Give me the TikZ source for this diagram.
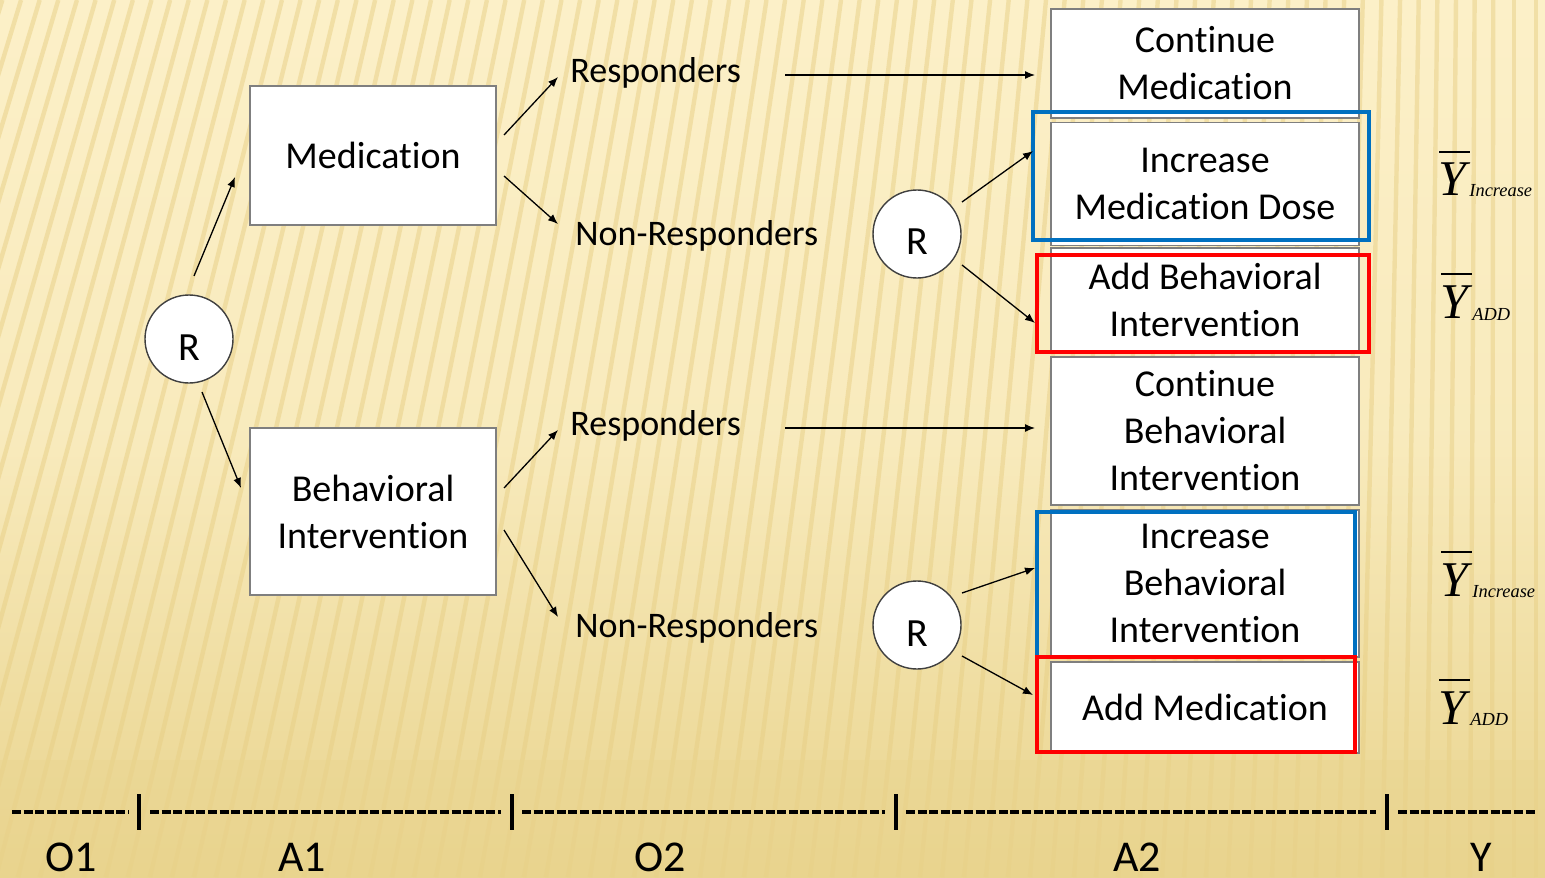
\documentclass[tikz,border=0pt]{standalone}
\usepackage{fontspec}
\setmainfont{Carlito}[Ligatures=NoCommon]
\newfontfamily\timesf{Liberation Serif}
\usetikzlibrary{arrows.meta}

\definecolor{paperlight}{HTML}{FCF0C8}
\definecolor{paperdark}{HTML}{E9D48E}
\definecolor{stripe}{HTML}{E8CF85}
\definecolor{boxline}{HTML}{7F7F7F}
\definecolor{hlblue}{HTML}{0070C0}
\definecolor{hlred}{HTML}{FF0000}

\tikzset{
  stagebox/.style={draw=boxline, line width=0.8pt, fill=white, align=center,
    inner sep=0pt, font=\fontsize{19}{23.5}\selectfont},
  rnode/.style={circle, draw=black!75, line width=0.7pt, fill=white,
    minimum size=44pt, inner sep=0pt, text height=21pt, text depth=0pt,
    font=\fontsize{20}{23}\selectfont},
  lbl/.style={inner sep=0pt, anchor=base west, font=\fontsize{18}{22}\selectfont},
  conn/.style={line width=0.65pt, -{Latex[length=5pt,width=4pt]}},
  hlbox/.style={line width=2pt},
  ybar/.style={inner sep=0pt, anchor=base west, font=\timesf\itshape\fontsize{25}{25}\selectfont},
  ysub/.style={inner sep=0pt, anchor=base west, font=\timesf\itshape\fontsize{9.2}{10}\selectfont},
  stage/.style={inner sep=0pt, anchor=base, font=\fontsize{22}{22}\selectfont},
  tick/.style={line width=1.6pt},
  dashrule/.style={line width=1.6pt, dash pattern=on 4.5pt off 1.3pt}
}

\begin{document}
\begin{tikzpicture}[x=0.5pt, y=-0.5pt]
\useasboundingbox (0,0) rectangle (1545,877);

% textured paper background
\shade[top color=paperlight, bottom color=paperdark, middle color=paperlight!80!paperdark]
  (0,0) rectangle (1545,877);
\begin{scope}
  \clip (0,0) rectangle (1545,877);
  \foreach \b in {-400,-378,...,1600} {
    \pgfmathsetmacro{\s}{max(0,260*(1-(\b+200)/1700))}
    \draw[stripe, opacity=0.5, line width=2.2pt] (\b,877) -- (\b+\s,0);
  }
  \fill[paperdark, opacity=0.35] (0,760) rectangle (1545,877);
\end{scope}

% first stage
\node[rnode] (r1) at (189,339) {R};
\node[stagebox, minimum width=123pt, minimum height=69.5pt] (med) at (373,155.5) {Medication};
\node[stagebox, minimum width=123pt, minimum height=83.5pt] (beh) at (373,511.5) {Behavioral\\Intervention};

% response labels
\node[lbl] (resp1) at (570,83) {Responders};
\node[lbl] (nonr1) at (575,245) {Non-Responders};
\node[lbl] (resp2) at (570,435) {Responders};
\node[lbl] (nonr2) at (575,637) {Non-Responders};

% second randomisations
\node[rnode] (r2) at (917,234) {R};
\node[rnode] (r3) at (917,625) {R};

% second-stage options
\node[stagebox, minimum width=154pt, minimum height=54.5pt] (cmed) at (1205,63.5) {Continue\\Medication};
\node[stagebox, minimum width=154pt, minimum height=61.5pt] (imed) at (1205,184) {Increase\\Medication Dose};
\node[stagebox, minimum width=154pt, minimum height=52pt] (abeh) at (1205,300) {Add Behavioral\\Intervention};
\node[stagebox, minimum width=154pt, minimum height=74pt] (cbeh) at (1205,431) {Continue\\Behavioral\\Intervention};
\node[stagebox, minimum width=154pt, minimum height=73.5pt] (ibeh) at (1205,583.5) {Increase\\Behavioral\\Intervention};
\node[stagebox, minimum width=154pt, minimum height=45.5pt] (amed) at (1205,707.5) {Add Medication};

% highlight frames
\draw[hlbox, hlblue] (1033,112) rectangle (1369,240);
\draw[hlbox, hlred] (1037,255) rectangle (1369,352);
\draw[hlbox, hlblue] (1037,512) rectangle (1355,657);
\draw[hlbox, hlred] (1037,657) rectangle (1355,752);

% connector end points
\coordinate (a1s) at (194,276);  \coordinate (a1e) at (235,177);
\coordinate (a2s) at (202,392);  \coordinate (a2e) at (241,488);
\coordinate (a3s) at (504,135);  \coordinate (a3e) at (558,77);
\coordinate (a4s) at (504,176);  \coordinate (a4e) at (558,224);
\coordinate (a5s) at (785,75);   \coordinate (a5e) at (1035,75);
\coordinate (a6s) at (962,202);  \coordinate (a6e) at (1033,151);
\coordinate (a7s) at (962,265);  \coordinate (a7e) at (1035,323);
\coordinate (a8s) at (504,488);  \coordinate (a8e) at (558,430);
\coordinate (a9s) at (504,530);  \coordinate (a9e) at (558,617);
\coordinate (a10s) at (785,428); \coordinate (a10e) at (1035,428);
\coordinate (a11s) at (962,593); \coordinate (a11e) at (1035,568);
\coordinate (a12s) at (962,656); \coordinate (a12e) at (1033,695);

\foreach \i in {1,...,12} \draw[conn] (a\i s) -- (a\i e);

% outcome means
\node[ybar] (y1) at (1438,196) {Y};
\node[ysub] (y1s) at (1469,197) {Increase};
\node[ybar] (y2) at (1440,318) {Y};
\node[ysub] (y2s) at (1472,320) {ADD};
\node[ybar] (y3) at (1440,596) {Y};
\node[ysub] (y3s) at (1472,597) {Increase};
\node[ybar] (y4) at (1438,724) {Y};
\node[ysub] (y4s) at (1470,725) {ADD};
\foreach \n in {y1,y2,y3,y4}
  \draw[line width=1pt] ([xshift=0.5pt,yshift=5.5pt]\n.north west) -- ([xshift=1.5pt,yshift=5.5pt]\n.north east);

% timeline
\draw[dashrule] (12,812) -- (129,812);
\draw[dashrule] (150,812) -- (501,812);
\draw[dashrule] (522,812) -- (885,812);
\draw[dashrule] (906,812) -- (1376,812);
\draw[dashrule] (1398,812) -- (1536,812);
\foreach \x in {139,512,896,1387} \draw[tick] (\x,794) -- (\x,830);

\node[stage] (o1) at (71,871) {O1};
\node[stage] (t1) at (302,871) {A1};
\node[stage] (o2) at (660,871) {O2};
\node[stage] (t2) at (1137,871) {A2};
\node[stage] (yy) at (1481,871) {Y};
\end{tikzpicture}
\end{document}
